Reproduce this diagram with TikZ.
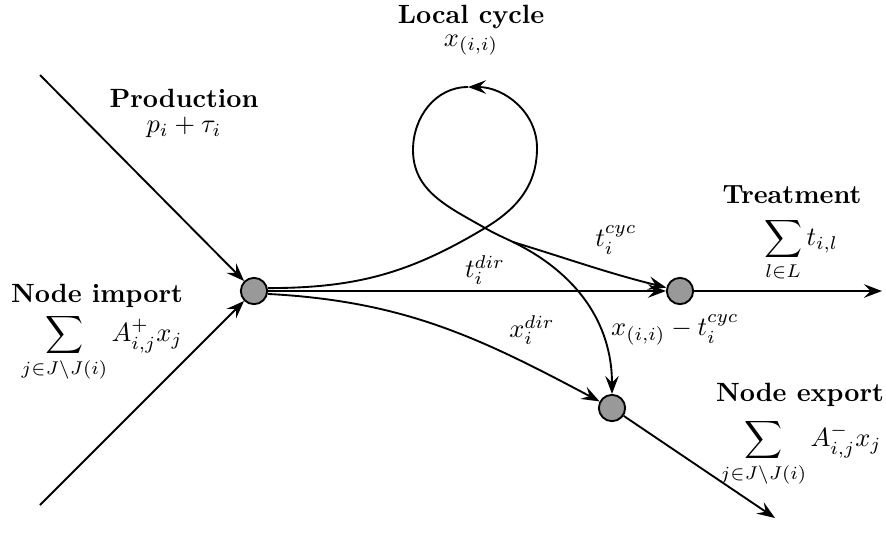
\documentclass[tikz,border=0pt]{standalone}
\usepackage{amsmath, amssymb}
\usetikzlibrary{arrows.meta}

\begin{document}
\begin{tikzpicture}[x=0.0133cm, y=-0.0133cm,
    >={Stealth[length=2.4mm, width=1.8mm, inset=0.9mm]},
    flow/.style={->, line width=.25mm},
    junction/.style={circle, draw, line width=.25mm, fill=black!40,
        minimum size=0.35cm, inner sep=0pt},
    heading/.style={font=\bfseries, inner sep=1pt},
    formula/.style={inner sep=1pt}]
    \useasboundingbox (0,0) rectangle (886,550);

    % junctions
    \node[junction] (hub) at (254,291) {};
    \node[junction] (treat) at (680,291) {};
    \node[junction] (export) at (612,408) {};

    % free ends
    \coordinate (prodin) at (40,75);
    \coordinate (impin) at (40,505);
    \coordinate (treatout) at (882,291);
    \coordinate (exportout) at (775,518);
    \coordinate (cross) at (485,228);
    \coordinate (top) at (468,87);
    \coordinate (split) at (513,242);

    % texts
    \node[heading] (cyclehead) at (471,17) {Local cycle};
    \node[formula] (cyclevar) at (471,45) {$x_{(i,i)}$};
    \node[heading] (prodhead) at (184,98) {Production};
    \node[formula] (prodvar) at (184,127) {$p_i+\tau_i$};
    \node[heading] (imphead) at (97,296) {Node import};
    \node[formula] (impvar) at (102,348)
        {$\displaystyle\sum_{j\in J\setminus J(i)} A^+_{i,j}x_j$};
    \node[heading] (treathead) at (792,195) {Treatment};
    \node[formula] (treatvar) at (801,250) {$\displaystyle\sum_{l\in L} t_{i,l}$};
    \node[heading] (exphead) at (800,395) {Node export};
    \node[formula] (expvar) at (801,453)
        {$\displaystyle\sum_{j\in J\setminus J(i)} A^-_{i,j}x_j$};
    \node[formula] (dirlabel) at (485,270) {$t_i^{dir}$};
    \node[formula] (xdirlabel) at (532,330) {$x_i^{dir}$};
    \node[formula] (cyclabel) at (616,240) {$t_i^{cyc}$};
    \node[formula] (restlabel) at (675,330) {$x_{(i,i)}-t_i^{cyc}$};

    % flows
    \draw[flow] (prodin) -- (hub);
    \draw[flow] (impin) -- (hub);
    \draw[flow] (hub) -- (treat);
    \draw[flow] (treat) -- (treatout);
    \draw[flow] (export) -- (exportout);
    \draw[flow] (hub.-12) to[out=-3, in=152] (export);

    % local cycle
    \draw[flow] (hub.12) to[out=0, in=211] (cross)
        to[out=31, in=-90] (537,148)
        to[out=90, in=0] (top);
    \draw[line width=.25mm] (top) to[out=180, in=90] (413,150)
        to[out=-90, in=150] (cross)
        to[out=-30, in=154] (split);
    \draw[flow] (split) to[out=-17, in=166] (treat);
    \draw[flow] (split) to[out=-26, in=90] (export);
\end{tikzpicture}
\end{document}
